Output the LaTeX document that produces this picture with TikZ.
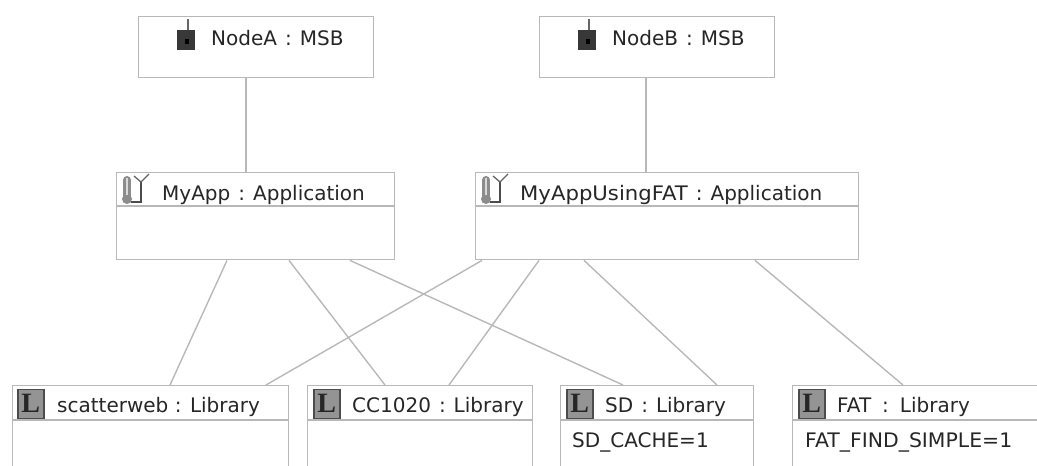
\documentclass[tikz,border=0pt]{standalone}
\usepackage{fontspec}
\setmainfont{DejaVu Sans}
\newfontfamily\lfont{Liberation Serif}
\definecolor{edge}{gray}{0.72}
\definecolor{ink}{gray}{0.15}
\newcommand{\sep}{\hspace{8pt}:\hspace{8pt}}
\tikzset{
  x=1pt,y=-1pt,
  box/.style={draw=edge,line width=1.4pt,fill=white,rectangle,anchor=north west,inner sep=0pt,minimum height=#1},
  conn/.style={draw=edge,line width=1.4pt},
  divider/.style={draw=edge,line width=1.4pt},
  label/.style={text=ink,font=\fontsize{20}{22}\selectfont,anchor=west,inner sep=0pt},
  libicon/.style={draw=black!70,line width=1.5pt,fill=black!42,minimum width=26pt,minimum height=29pt,inner sep=0pt,anchor=north west,font=\lfont\bfseries\fontsize{28}{28}\selectfont,text=black!85},
}
\newcommand{\mote}[2]{%
  \draw[black!60,line width=1.3pt] (#1+11,#2) -- (#1+11,#2+11);
  \fill[black!78] (#1,#2+11) rectangle (#1+18,#2+31);
  \fill[black] (#1+8,#2+20) rectangle (#1+12,#2+25);
}
\newcommand{\appicon}[2]{%
  \draw[black!45,line width=8pt,line cap=round] (#1+5,#2+5) -- (#1+5,#2+22);
  \fill[black!45] (#1+5,#2+24) circle[radius=5];
  \draw[black!15,line width=2.5pt] (#1+5,#2+3) -- (#1+5,#2+20);
  \draw[black!70,line width=1.4pt] (#1+9,#2+27) -- (#1+19,#2+27) -- (#1+19,#2+7);
  \draw[black!60,line width=1.3pt] (#1+12,#2+1) -- (#1+19,#2+7) -- (#1+27,#2-1);
}
\begin{document}
\begin{tikzpicture}
\useasboundingbox (0,0) rectangle (1037,466);
\clip (0,0) rectangle (1037,466);
\node[box=61pt,minimum width=235pt] (nodeA) at (138,16) {};
\node[box=61pt,minimum width=235pt] (nodeB) at (539,16) {};
\node[box=87pt,minimum width=278pt] (myApp) at (116,172) {};
\node[box=87pt,minimum width=383pt] (myAppFat) at (475,172) {};
\node[box=120pt,minimum width=276pt] (scatter) at (12,385) {};
\node[box=120pt,minimum width=225pt] (cc) at (307,385) {};
\node[box=120pt,minimum width=193pt] (sd) at (560,385) {};
\node[box=120pt,minimum width=300pt] (fat) at (792,385) {};

\draw[conn] ([xshift=108pt]nodeA.south west) -- ([xshift=130pt]myApp.north west);
\draw[conn] ([xshift=107pt]nodeB.south west) -- ([xshift=171pt]myAppFat.north west);
\draw[conn] ([xshift=111pt]myApp.south west) -- ([xshift=158pt]scatter.north west);
\draw[conn] ([xshift=173pt]myApp.south west) -- ([xshift=78pt]cc.north west);
\draw[conn] ([xshift=234pt]myApp.south west) -- ([xshift=63pt]sd.north west);
\draw[conn] ([xshift=7pt]myAppFat.south west) -- ([xshift=254pt]scatter.north west);
\draw[conn] ([xshift=64pt]myAppFat.south west) -- ([xshift=142pt]cc.north west);
\draw[conn] ([xshift=109pt]myAppFat.south west) -- ([xshift=157pt]sd.north west);
\draw[conn] ([xshift=280pt]myAppFat.south west) -- ([xshift=111pt]fat.north west);

\draw[divider] (116,206) -- (394,206);
\draw[divider] (475,206) -- (858,206);
\draw[divider] (12,420) -- (288,420);
\draw[divider] (307,420) -- (532,420);
\draw[divider] (560,420) -- (753,420);
\draw[divider] (792,420) -- (1037,420);

\mote{177}{19}
\mote{578}{19}
\appicon{122}{175}
\appicon{481}{175}

\node[libicon] (i1) at (17,388.5) {L};
\node[libicon] (i2) at (313,388.5) {L};
\node[libicon] (i3) at (566,388.5) {L};
\node[libicon] (i4) at (798,388.5) {L};

\node[label] (t1) at (211,38) {NodeA\sep MSB};
\node[label] (t2) at (612,38) {NodeB\sep MSB};
\node[label] (t3) at (162,195) {MyApp\sep Application};
\node[label] (t4) at (520,195) {\scalebox{1.06}[1]{MyAppUsingFAT}\sep Application};
\node[label] (t5) at (57,407) {scatterweb : Library};
\node[label] (t6) at (352,407) {CC1020\sep Library};
\node[label] (t7) at (605,407) {SD\sep Library};
\node[label] (t8) at (837,407) {FAT\hspace{11pt}:\hspace{11pt}Library};
\node[label] (t9) at (572,442) {SD\_CACHE=1};
\node[label] (t10) at (805,442) {\scalebox{1.02}[1]{FAT\_FIND\_SIMPLE=1}};
\end{tikzpicture}
\end{document}
